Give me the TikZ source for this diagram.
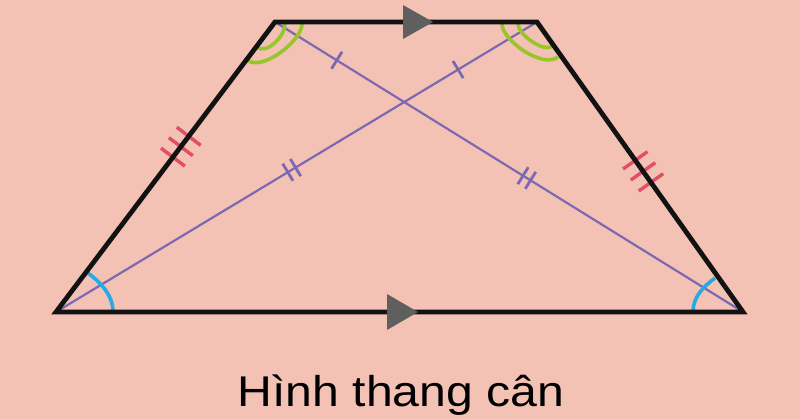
\documentclass[tikz,border=0pt]{standalone}
\usepackage{fontspec}
\setmainfont{Liberation Sans}
\usetikzlibrary{calc}
\definecolor{bgpink}{RGB}{243,194,181}
\definecolor{edgeblack}{RGB}{18,18,18}
\definecolor{arrgray}{RGB}{95,95,95}
\definecolor{diagpurple}{RGB}{125,105,178}
\definecolor{tickred}{RGB}{226,78,102}
\definecolor{anggreen}{RGB}{150,198,40}
\definecolor{angblue}{RGB}{38,170,228}
\tikzset{
  edgeline/.style={draw=edgeblack, line width=4.8pt, line join=miter},
  diagline/.style={draw=diagpurple, line width=2.2pt},
  redtick/.style={draw=tickred, line width=3.4pt},
  purtick/.style={draw=diagpurple, line width=2.8pt},
  greenarc/.style={draw=anggreen, line width=3.6pt},
  bluearc/.style={draw=angblue, line width=3.6pt},
  arrowhead/.style={fill=arrgray},
}
\newcommand{\mytick}[5]{%
  \path ($(#2)!#4!(#3)$) coordinate (tmpc);
  \draw[#1] ($(tmpc)!#5!90:(#3)$) -- ($(tmpc)!#5!-90:(#3)$);}
\begin{document}
\begin{tikzpicture}[x=1pt,y=-1pt]
\fill[bgpink] (0,0) rectangle (800,419);
\useasboundingbox (0,0) rectangle (800,419);
\coordinate (TL) at (275,22);
\coordinate (TR) at (537,22);
\coordinate (BL) at (56,312);
\coordinate (BR) at (743,312);
% diagonals
\draw[diagline] (TL) -- (BR);
\draw[diagline] (BL) -- (TR);
% diagonal ticks
\mytick{purtick}{TL}{BR}{0.132}{10pt}
\mytick{purtick}{BL}{TR}{0.836}{10pt}
\mytick{purtick}{TL}{BR}{0.530}{10pt}
\mytick{purtick}{TL}{BR}{0.546}{10pt}
\mytick{purtick}{BL}{TR}{0.482}{10pt}
\mytick{purtick}{BL}{TR}{0.498}{10pt}
% leg ticks
\mytick{redtick}{TL}{BL}{0.394}{15pt}
\mytick{redtick}{TL}{BL}{0.430}{15pt}
\mytick{redtick}{TL}{BL}{0.466}{15pt}
\mytick{redtick}{TR}{BR}{0.477}{15pt}
\mytick{redtick}{TR}{BR}{0.515}{15pt}
\mytick{redtick}{TR}{BR}{0.553}{15pt}
% green angle marks
\draw[greenarc] (302,24) .. controls (302,40) and (263,72) .. (247,60);
\draw[greenarc] (285,24) .. controls (285,36) and (267,55) .. (256,47);
\draw[greenarc] (502,24) .. controls (502,40) and (542,69) .. (558,57);
\draw[greenarc] (518,24) .. controls (518,34) and (543,53) .. (553,46);
% blue angle marks
\draw[bluearc] (113,312) .. controls (113,295) and (101,283) .. (88,273);
\draw[bluearc] (693,312) .. controls (693,297) and (703,287) .. (715,278);
% trapezoid
\draw[edgeline] (BL) -- (TL) -- (TR) -- (BR) -- cycle;
% parallel arrows
\fill[arrowhead] (403,5) -- (433,22) -- (403,39) -- cycle;
\fill[arrowhead] (387,294) -- (418,312) -- (387,330) -- cycle;
% title
\node[font=\fontsize{43}{50}\selectfont, anchor=base, inner sep=0pt] (title) at (401,406) {\scalebox{1.12}[1]{Hình thang cân}};
\end{tikzpicture}
\end{document}
